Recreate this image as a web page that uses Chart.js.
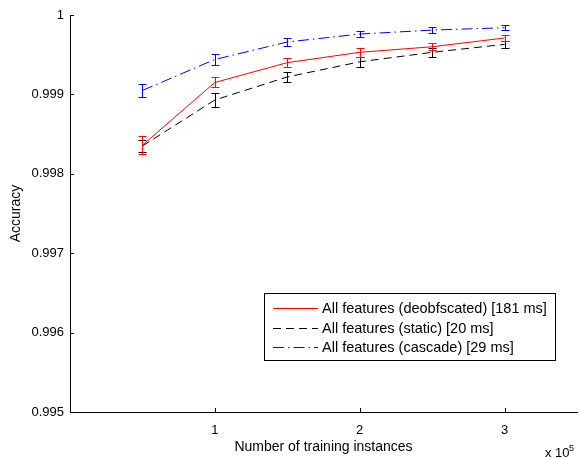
<!DOCTYPE html>
<html>
<head>
<meta charset="utf-8">
<script src="https://cdn.jsdelivr.net/npm/chart.js@4/dist/chart.umd.min.js"></script>
<style>
  html, body { margin: 0; padding: 0; background: #ffffff; }
  #c { display: block; }
</style>
</head>
<body>
<canvas id="c" width="580" height="459"></canvas>
<script>
// Number of training instances (in units of 10^5)
const trainingSizes = [0.5, 1, 1.5, 2, 2.5, 3];

// Mean accuracy and error-bar half-widths for each feature set
const accDeobfuscated = [0.99836, 0.99915, 0.99940, 0.99953, 0.99960, 0.99971];
const errDeobfuscated = [0.00011, 0.000063, 0.000053, 0.000054, 0.000042, 0.000042];
const accStatic       = [0.99835, 0.99893, 0.99922, 0.99941, 0.99953, 0.99963];
const errStatic       = [0.000072, 0.000088, 0.000063, 0.000063, 0.000054, 0.000048];
const accCascade      = [0.99905, 0.99944, 0.99966, 0.99976, 0.99981, 0.99984];
const errCascade      = [0.000082, 0.000067, 0.000048, 0.00004, 0.000034, 0.000035];

const seriesLabels = [
  'All features (deobfscated) [181 ms]',
  'All features (static) [20 ms]',
  'All features (cascade) [29 ms]'
];

// Axis ticks
const xTickValues = [1, 2, 3];
const yTickValues = [0.995, 0.996, 0.997, 0.998, 0.999, 1];

const FONT = 'Arial, "Liberation Sans", Helvetica, sans-serif';
Chart.defaults.font.family = FONT;
Chart.defaults.color = '#000000';

const toPoints = (ys) => trainingSizes.map((x, i) => ({ x: x, y: ys[i] }));

// Error bars, inward tick marks, exponent note and boxed legend
const figureExtras = {
  id: 'figureExtras',
  afterDatasetsDraw(chart) {
    const { ctx, scales: { x, y } } = chart;
    const sets = chart.data.datasets;
    for (let i = sets.length - 1; i >= 0; i--) {
      const ds = sets[i];
      ctx.save();
      ctx.strokeStyle = ds.borderColor;
      ctx.lineWidth = 1;
      ds.data.forEach((p, j) => {
        const px = Math.round(x.getPixelForValue(p.x)) + 0.5;
        const top = Math.round(y.getPixelForValue(p.y + ds.errors[j])) + 0.5;
        const bot = Math.round(y.getPixelForValue(p.y - ds.errors[j])) + 0.5;
        ctx.beginPath();
        ctx.moveTo(px, top); ctx.lineTo(px, bot);
        ctx.moveTo(px - 4, top); ctx.lineTo(px + 4, top);
        ctx.moveTo(px - 4, bot); ctx.lineTo(px + 4, bot);
        ctx.stroke();
      });
      ctx.restore();
    }
  },
  afterDraw(chart) {
    const { ctx, chartArea: area, scales: { x, y } } = chart;
    ctx.save();
    ctx.strokeStyle = '#000000';
    ctx.lineWidth = 1;
    ctx.beginPath();
    xTickValues.forEach(v => {
      const px = Math.round(x.getPixelForValue(v)) + 0.5;
      ctx.moveTo(px, area.bottom);
      ctx.lineTo(px, area.bottom - 4);
    });
    yTickValues.forEach(v => {
      const py = Math.round(y.getPixelForValue(v)) + 0.5;
      ctx.moveTo(area.left, py);
      ctx.lineTo(area.left + 4, py);
    });
    ctx.stroke();

    // scale factor note
    ctx.fillStyle = '#000000';
    ctx.textBaseline = 'alphabetic';
    ctx.textAlign = 'left';
    ctx.font = '13px ' + FONT;
    ctx.fillText('x 10', 545, 457);
    ctx.font = '9px ' + FONT;
    ctx.fillText('5', 569, 451);

    // legend box
    const bx = 264.5, by = 293.5, bw = 291, bh = 67;
    ctx.fillStyle = '#ffffff';
    ctx.fillRect(bx, by, bw, bh);
    ctx.strokeStyle = '#000000';
    ctx.strokeRect(bx, by, bw, bh);
    const rows = [308, 328, 347];
    chart.data.datasets.forEach((ds, i) => {
      const ry = rows[i] + 0.5;
      ctx.save();
      ctx.strokeStyle = ds.borderColor;
      ctx.lineWidth = 1;
      ctx.setLineDash(ds.borderDash || []);
      ctx.beginPath();
      ctx.moveTo(273, ry);
      ctx.lineTo(318, ry);
      ctx.stroke();
      ctx.restore();
      ctx.fillStyle = '#000000';
      ctx.font = '14.5px ' + FONT;
      ctx.textBaseline = 'middle';
      ctx.fillText(ds.label, 322, rows[i] + 1);
    });
    ctx.restore();
  }
};

new Chart(document.getElementById('c'), {
  type: 'line',
  data: {
    datasets: [
      {
        label: seriesLabels[0],
        data: toPoints(accDeobfuscated),
        errors: errDeobfuscated,
        borderColor: '#ff0000',
        borderWidth: 1,
        pointRadius: 0,
        fill: false
      },
      {
        label: seriesLabels[1],
        data: toPoints(accStatic),
        errors: errStatic,
        borderColor: '#000000',
        borderWidth: 1,
        borderDash: [8, 5],
        pointRadius: 0,
        fill: false
      },
      {
        label: seriesLabels[2],
        data: toPoints(accCascade),
        errors: errCascade,
        borderColor: '#0000ff',
        borderWidth: 1,
        borderDash: [11, 4, 1.5, 4],
        pointRadius: 0,
        fill: false
      }
    ]
  },
  options: {
    responsive: false,
    devicePixelRatio: 1,
    animation: false,
    events: [],
    layout: { padding: { left: 0, right: 3, top: 15, bottom: 0 } },
    plugins: {
      legend: { display: false },
      tooltip: { enabled: false }
    },
    scales: {
      x: {
        type: 'linear',
        min: 0,
        max: 3.5,
        afterBuildTicks: (scale) => { scale.ticks = xTickValues.map(v => ({ value: v })); },
        afterFit: (scale) => { scale.height = 47; },
        grid: { display: false, drawTicks: false },
        border: { display: true, color: '#000000', width: 1 },
        ticks: {
          padding: 11,
          maxRotation: 0,
          font: { size: 13 },
          callback: (v) => String(v)
        },
        title: {
          display: true,
          text: 'Number of training instances',
          font: { size: 14 },
          padding: { top: 0, bottom: 3 }
        }
      },
      y: {
        type: 'linear',
        min: 0.995,
        max: 1,
        afterBuildTicks: (scale) => { scale.ticks = yTickValues.map(v => ({ value: v })); },
        afterFit: (scale) => { scale.width = 70; },
        grid: { display: false, drawTicks: false },
        border: { display: true, color: '#000000', width: 1 },
        ticks: {
          padding: 6,
          font: { size: 13 },
          callback: (v) => String(Number(v.toFixed(3)))
        },
        title: {
          display: true,
          text: 'Accuracy',
          font: { size: 14 },
          padding: { top: 8, bottom: 0 }
        }
      }
    }
  },
  plugins: [figureExtras]
});
</script>
</body>
</html>
